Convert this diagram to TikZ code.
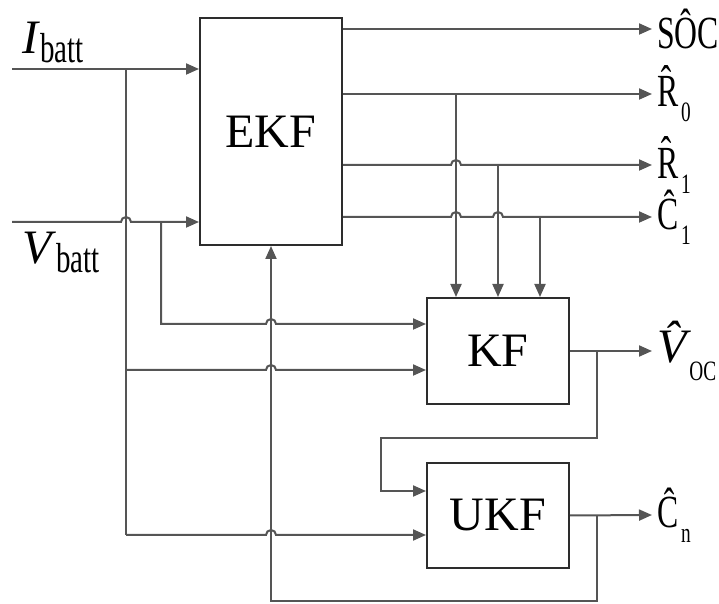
\documentclass[tikz,border=0pt]{standalone}
\usepackage{fontspec}
\setmainfont{Liberation Serif}
\newfontfamily\narrowfont[FakeStretch=0.69]{Liberation Serif}
\usetikzlibrary{arrows.meta,positioning}
\definecolor{wire}{RGB}{85,85,85}
\definecolor{edge}{RGB}{45,45,45}
\newcommand{\lowsub}[2][7.5pt]{\hspace{1.5pt}\raisebox{-#1}{\fontsize{14}{14}\selectfont #2}}
\newcommand{\lowin}[1]{\raisebox{-4.5pt}{\narrowfont\fontsize{21}{21}\selectfont #1}}

\begin{document}
\begin{tikzpicture}[
    x=0.5pt, y=-0.5pt,
    block/.style={rectangle, draw=edge, line width=1pt, minimum width=71pt, inner sep=0pt, font=\fontsize{24}{28}\selectfont},
    wireLine/.style={draw=wire, line width=1pt},
    arrowLine/.style={wireLine, -{Triangle[length=6.5pt, width=5.5pt]}},
    outLabel/.style={anchor=west, inner sep=0pt, outer xsep=2.5pt, font=\narrowfont\fontsize{23}{25}\selectfont},
    inLabel/.style={inner sep=0pt, font=\fontsize{24}{28}\selectfont},
    hop/.style args={#1,#2}{insert path={-- ({#1-5},#2) arc[start angle=180, end angle=0, radius=2.5pt]}}
  ]
  \useasboundingbox (0,0) rectangle (719,604);

  % Filters
  \node[block, minimum height=113.5pt] (ekf) at (271,131.5) {EKF};
  \node[block, minimum height=53pt] (kf) at (498,351) {KF};
  \node[block, minimum height=52.5pt] (ukf) at (498,515.5) {UKF};

  % Points
  \coordinate (iin) at (12,69);
  \coordinate (vin) at (12,222);
  \coordinate (ibr) at (126,69);
  \coordinate (vbr) at (161,222);
  \coordinate (vkf) at (161,324);
  \coordinate (ikf) at (126,370);
  \coordinate (iukf) at (126,535);
  \coordinate (r0br) at (456,94);
  \coordinate (r1br) at (498,165);
  \coordinate (c1br) at (540,217);
  \coordinate (vocbr) at (597,351);
  \coordinate (turn) at (381,438);
  \coordinate (ukfv) at (381,491);
  \coordinate (cnbr) at (597,515);
  \coordinate (fb) at (271,601);

  % Labels
  \node[inLabel, above right=3pt and 5pt of iin] (ilab) {\textit{I}\lowin{batt}};
  \node[inLabel, below right=5pt and 5pt of vin] (vlab) {\textit{V}\lowin{batt}};
  \node[outLabel] (soc) at (652,29) {SÔC};
  \node[outLabel] (r0) at (652,94) {\^{R}\lowsub{0}};
  \node[outLabel] (r1) at (652,165) {\^{R}\lowsub{1}};
  \node[outLabel] (c1) at (652,217) {\^{C}\lowsub{1}};
  \node[outLabel] (voc) at (652,351) {{\normalfont\itshape\fontsize{24}{28}\selectfont \^{V}}\lowsub[9pt]{OC}};
  \node[outLabel] (cn) at (652,515) {\^{C}\lowsub{n}};

  % EKF inputs
  \draw[arrowLine] (iin) -- (ekf.west |- iin);
  \draw[arrowLine] (vin) [hop={126,222}] -- (ekf.west |- vin);

  % EKF outputs
  \draw[arrowLine] (ekf.east |- soc) -- (soc.west);
  \draw[arrowLine] (ekf.east |- r0) -- (r0.west);
  \draw[arrowLine] (ekf.east |- r1) [hop={456,165}] -- (r1.west);
  \draw[arrowLine] (ekf.east |- c1) [hop={456,217}] [hop={498,217}] -- (c1.west);
  \draw[arrowLine] (r0br) -- (kf.north -| r0br);
  \draw[arrowLine] (r1br) -- (kf.north);
  \draw[arrowLine] (c1br) -- (kf.north -| c1br);

  % Battery signals to KF and UKF
  \draw[wireLine] (ibr) -- (iukf);
  \draw[arrowLine] (vbr) -- (vkf) [hop={271,324}] -- (kf.west |- vkf);
  \draw[arrowLine] (ikf) [hop={271,370}] -- (kf.west |- ikf);
  \draw[arrowLine] (iukf) [hop={271,535}] -- (ukf.west |- iukf);

  % KF output
  \draw[arrowLine] (kf.east) -- (voc.west);
  \draw[arrowLine] (vocbr) |- (turn) |- (ukf.west |- ukfv);

  % UKF output and feedback
  \draw[arrowLine] (ukf.east) -- (cn.west);
  \draw[arrowLine] (cnbr) |- (fb) -- (ekf.south);

\end{tikzpicture}
\end{document}
